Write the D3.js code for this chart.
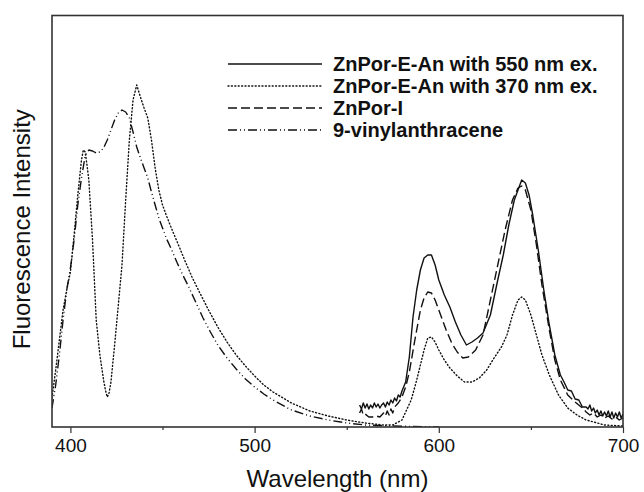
<!DOCTYPE html>
<html>
<head>
<meta charset="utf-8">
<script src="https://cdn.jsdelivr.net/npm/d3@7"></script>
<style>
  body { margin: 0; background: #fff; }
  text { font-family: Arial, "Liberation Sans", sans-serif; }
</style>
</head>
<body>
<svg id="chart" width="644" height="492"></svg>
<script>
// --- data: [wavelength (nm), intensity (a.u.)] ---
const ex550 = [
  [557,22],[558,18],[559,24],[560,19],[561,23],[562,18],[563,22],[564,19],[565,24],[566,20],
  [567,23],[568,19],[569,22],[570,24],[571,20],[572,25],[573,22],[574,27],[575,24],[576,29],
  [577,26],[578,32],[579,30],[580,36],[582,45],[584,70],[586,110],[588,137],[590,157],[592,169],
  [594,172],[596,172],[598,162],[600,147],[603,132],[606,120],[609,105],[612,92],[615,82],[618,85],
  [621,89],[624,94],[628,112],[632,147],[635,172],[638,202],[641,227],[644,242],[645,247],[647,244],
  [649,232],[651,212],[654,177],[657,137],[660,102],[663,72],[666,52],[668,45],[670,37],[672,36],
  [674,28],[676,27],[678,20],[680,20],[681,18],[682,22],[683,16],[684,19],[685,14],[686,17],
  [687,12],[688,16],[689,11],[690,15],[691,11],[692,16],[693,10],[694,15],[695,9],[696,14],
  [697,10],[698,15],[699,9],[700,13]
];

const ex370 = [
  [390,29],[392,57],[394,87],[396,117],[398,137],[400,155],[402,192],[404,232],[406,267],[407,277],
  [408,275],[409,262],[410,247],[411,217],[412,187],[413,147],[414,107],[416,72],[418,47],[419,37],
  [420,30],[421,34],[422,45],[424,82],[426,122],[428,162],[430,227],[432,287],[434,327],[436,342],
  [438,330],[440,319],[442,309],[444,287],[446,259],[448,237],[450,222],[452,212],[455,198],[458,185],
  [462,167],[466,150],[470,135],[475,117],[480,100],[485,85],[490,72],[495,61],[500,51],[505,42],
  [510,35],[520,24],[530,16],[540,11],[550,7],[560,4],[570,2],[575,2],[580,7],[585,27],
  [588,47],[590,62],[592,77],[594,89],[596,90],[598,85],[600,77],[603,67],[606,59],[610,51],
  [614,45],[618,45],[622,49],[626,57],[630,69],[634,80],[637,92],[640,112],[643,127],[645,130],
  [647,127],[650,112],[653,92],[656,72],[660,52],[665,32],[670,19],[675,12],[680,7],[690,2],[700,1]
];

const znporI = [
  [557,14],[558,18],[559,12],[560,13],[562,10],[564,10],[566,11],[568,10],[570,14],[571,11],
  [572,16],[573,12],[574,18],[575,14],[576,20],[578,24],[580,30],[582,40],[584,55],[587,87],
  [590,117],[592,129],[594,135],[596,134],[598,127],[601,112],[604,97],[607,84],[610,75],[613,69],
  [616,70],[620,77],[624,92],[628,127],[632,162],[636,197],[640,227],[643,239],[645,241],[647,237],
  [650,217],[653,182],[656,142],[660,97],[663,67],[666,47],[670,32],[674,25],[678,19],[680,15],
  [682,12],[684,14],[686,10],[688,12],[690,9],[692,11],[694,8],[696,10],[698,7],[700,9]
];

const vinylAn = [
  [390,19],[392,42],[394,72],[396,107],[398,137],[400,159],[402,187],[404,222],[406,249],[408,271],
  [410,277],[412,276],[414,274],[416,275],[418,279],[420,287],[422,297],[424,307],[426,314],[428,317],
  [430,315],[432,309],[434,295],[436,280],[438,269],[440,259],[442,249],[444,235],[446,222],[448,209],
  [450,199],[452,189],[455,177],[458,164],[461,152],[464,141],[468,125],[472,109],[476,95],[480,82],
  [485,69],[490,58],[495,48],[500,40],[505,33],[510,27],[520,17],[530,11],[540,7],[550,4],
  [560,2],[575,1],[600,0]
];

const seriesNames = [
  "ZnPor-E-An with 550 nm ex.",
  "ZnPor-E-An with 370 nm ex.",
  "ZnPor-I",
  "9-vinylanthracene"
];
const xTicks = [400, 500, 600, 700];
const xMinor = [450, 550, 650];

// --- layout ---
const svg = d3.select("#chart");
const margin = { left: 52, right: 21, top: 15.5, bottom: 65 };
const W = 644, H = 492;

const x = d3.scaleLinear().domain([390, 700]).range([margin.left, W - margin.right]);
const y = d3.scaleLinear().domain([0, 411.5]).range([H - margin.bottom, margin.top]);

// line styles per series
const styles = [
  { dash: null, width: 1.4 },
  { dash: "1,2.4", width: 1.4, cap: "round" },
  { dash: "9,4", width: 1.4 },
  { dash: "9,3,1,3,1,3", width: 1.4 }
];
const allData = [ex550, ex370, znporI, vinylAn];

const line = d3.line().x(d => x(d[0])).y(d => y(d[1]));

svg.append("defs").append("clipPath").attr("id", "clip")
  .append("rect")
  .attr("x", margin.left).attr("y", margin.top)
  .attr("width", W - margin.left - margin.right)
  .attr("height", H - margin.top - margin.bottom);

const plot = svg.append("g").attr("clip-path", "url(#clip)");
allData.forEach((arr, i) => {
  plot.append("path")
    .datum(arr)
    .attr("d", line)
    .attr("fill", "none")
    .attr("stroke", "#111")
    .attr("stroke-width", styles[i].width)
    .attr("stroke-dasharray", styles[i].dash)
    .attr("stroke-linecap", styles[i].cap || "butt")
    .attr("stroke-linejoin", "round");
});

// --- axes ---
const xAxis = svg.append("g")
  .attr("transform", `translate(0,${H - margin.bottom})`)
  .call(d3.axisBottom(x).tickValues(xTicks).tickSize(6).tickPadding(6).tickFormat(d3.format("d")));
xAxis.select(".domain").remove();
xAxis.selectAll("line").attr("stroke", "#333").attr("stroke-width", 1.2);
xAxis.selectAll("text").style("font-size", "19px").attr("fill", "#111");

svg.append("g")
  .attr("transform", `translate(0,${H - margin.bottom})`)
  .call(d3.axisBottom(x).tickValues(xMinor).tickSize(3).tickFormat(""))
  .call(g => g.select(".domain").remove())
  .selectAll("line").attr("stroke", "#333").attr("stroke-width", 1.2);

// frame
svg.append("rect")
  .attr("x", margin.left).attr("y", margin.top)
  .attr("width", W - margin.left - margin.right)
  .attr("height", H - margin.top - margin.bottom)
  .attr("fill", "none")
  .attr("stroke", "#333")
  .attr("stroke-width", 1.6);

// axis titles
svg.append("text")
  .attr("x", (margin.left + W - margin.right) / 2)
  .attr("y", 487)
  .attr("text-anchor", "middle")
  .style("font-size", "24px")
  .attr("fill", "#111")
  .text("Wavelength (nm)");

svg.append("text")
  .attr("transform", `translate(30,${(margin.top + H - margin.bottom) / 2 + 8}) rotate(-90)`)
  .attr("text-anchor", "middle")
  .style("font-size", "24px")
  .attr("fill", "#111")
  .text("Fluorescence Intensity");

// --- legend ---
const legend = svg.append("g");
seriesNames.forEach((name, i) => {
  const ly = 64 + i * 22;
  legend.append("line")
    .attr("x1", 228).attr("x2", 322)
    .attr("y1", ly).attr("y2", ly)
    .attr("stroke", "#111")
    .attr("stroke-width", styles[i].width)
    .attr("stroke-dasharray", styles[i].dash)
    .attr("stroke-linecap", styles[i].cap || "butt");
  legend.append("text")
    .attr("x", 333).attr("y", ly + 7)
    .style("font-size", "20px")
    .style("font-weight", "bold")
    .attr("fill", "#111")
    .text(name);
});
</script>
</body>
</html>
